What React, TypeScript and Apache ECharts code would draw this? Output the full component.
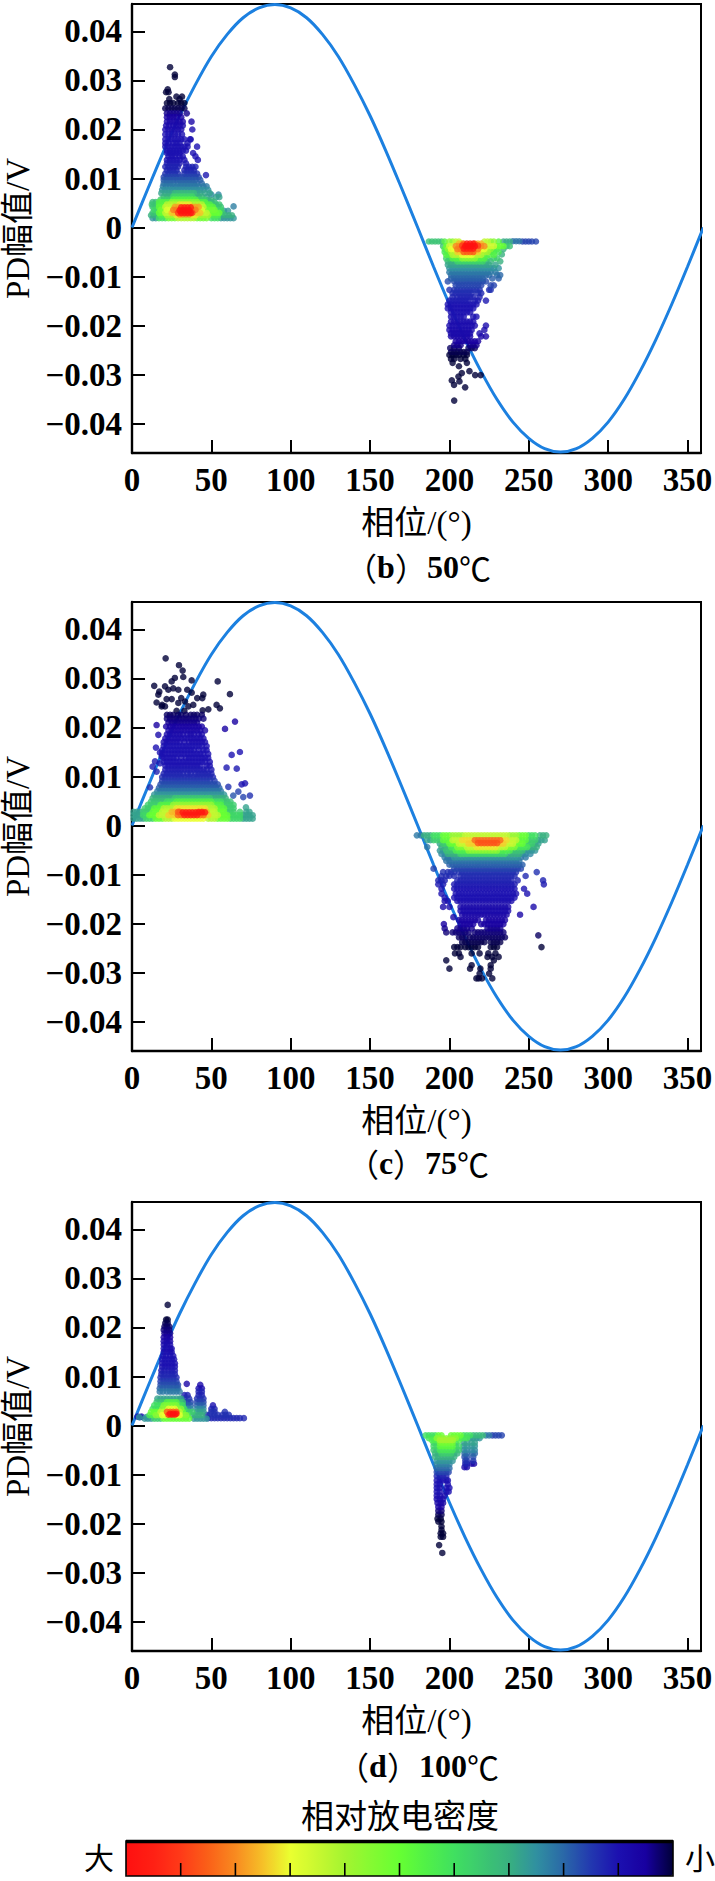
import React, { useEffect, useRef } from "react";
import * as echarts from "echarts";

// [amplitude, density (0 = 小 ... 10 = 大), ...phases]
type Row = number[];

const xTicks = [0, 50, 100, 150, 200, 250, 300, 350];
const yTicks = [-0.04, -0.03, -0.02, -0.01, 0, 0.01, 0.02, 0.03, 0.04];
const captionLetters = ["b", "c", "d"];
const captionTemps = ["50", "75", "100"];
const legendTitle = "相对放电密度";
const densityColors = ["#000038","#1800a0","#1c10b0","#2238b0","#2a68a8","#3090a0","#38b080","#3cc870","#40e060","#50f048","#66ff33","#84fa32","#a4f430","#c8f830","#eaff30","#f6c028","#f88a20","#fa6018","#ff3a18","#ff2014","#ff1010"];

const curvePhase = [0,10,20,30,40,50,60,70,80,90,100,110,120,130,140,150,160,170,180,190,200,210,220,230,240,250,260,270,280,290,300,310,320,330,340,350,360];
const curveAmp = [0,.0079,.0156,.0228,.0292,.0349,.0394,.0428,.0448,.0455,.0448,.0428,.0394,.0349,.0292,.0228,.0156,.0079,0,-.008,-.0157,-.0229,-.0294,-.0351,-.0397,-.043,-.0451,-.0458,-.0451,-.043,-.0397,-.0351,-.0294,-.0229,-.0157,-.008,0];

const b50Upper: Row[] = [
  [.0327,0,24],[.0312,0,27],[.0307,0,27],[.0282,0,22.5],[.0276,0,21.5,23],[.0267,0,28,31.5],[.0262,0,23.5,30],
  [.0254,0,22,24,26,29,31,33],[.0243,.1,21,23,25,27,29,31,33],[.0233,.4,22,24,26,28,30,34.5],[.0225,.5,22,24,26,28,31],
  [.0216,.7,22,24,26,28,30,32,37.5],[.0208,.8,21.5,23.5,26,28,30,32],[.02,.9,21,23,25,27,29,31,38],[.019,1,21,23,25,27,29,31.5],
  [.018,1,21,23,25,27,29,31,33,37,36.5],[.0172,1,21,23,26,28,30,35],[.0165,1,21,23,25,27,29,31,33,35,41],[.0157,1,22,24,26,28,30,32,34],
  [.0152,1,22,24,26,28,30,38.5],[.0145,1,23,25,27,30,32,40],[.0138,1,22,24,26,28,30,33,41.5],[.0131,1.1,22,24,26,28,30,34],
  [.0124,1.2,21,23,25,27,29,34,36,38,40],[.0117,1.2,22,24,26,28,33,35,37,39],[.011,1.4,21,23,25,27,29,33,35,37,39,41],[.0107,1.1,46.6],
  [.0103,1.6,20,22,24,26,28,30,32,34,36,38,40,42],[.0097,1.8,20,22,24,26,28,30,32,34,36,38,40,43],[.009,2,20,22,24,26,29,31,33,35,37,39,41,44],
  [.0084,2.2,19.5,21.5,24,26,28,30,32,34,36,38,40,42,45,47],[.0077,2.5,19,21,23,25,27,29,31,33,35,37,39,41,43,45,48],
  [.007,2.8,18.5,21,23,25,41,43,46,49],[.007,3.2,27,29,31,33,35,37,39],[.0067,2.4,50,54.5],[.0063,3,20,22,24,40,42,44],[.0063,3.8,26,28,30,32,34,36,38],[.0062,2.8,47,53,55],
  [.0057,3.6,18,20,22,24,42,44,46],[.0057,4.6,26,28,30,32,34,36,38,40],[.0056,3,48,50],
  [.0052,3.2,13,15,48,50,52],[.0052,4.6,17,19,21,23,42,44,46],[.0052,5.6,25,27,29,31,33,35,37,39,41],[.0047,3.4,12.5,15,51,53,55],[.0047,4.6,17,19,45,47,49],[.0047,6.2,22,24,26,28,38,40,42,44],[.0047,7.2,30,32,34,36],
  [.0042,3.4,13,15,54,56],[.0043,2.3,64],[.0042,4.8,17,19,47,49,51],[.0042,6.4,21,23,25,43,45],[.0042,7.8,27,29,38,40,42],[.0041,9.6,31,33,35,37],
  [.0036,3.8,14,16,54,56],[.0036,5.2,18,20,46,48,50,52],[.0036,6.8,22,24,42,44],[.0036,8.2,26,28,38,40],[.0035,10,30,32,34,36],[.0034,2.6,58,60.5],
  [.003,3.4,13,15,57],[.003,5,17,19,49,51,53,55],[.003,6.4,21,23,45,47],[.003,7.5,25,27,41,43],[.003,9,29,38],[.003,9.9,31,33,35,37],
  [.0025,3,12,14,16,57,59,61,63],[.0025,4.4,18,20,50,52,54],[.0025,6,22,24,26,42,44,46,48],[.0025,7.2,28,30,38,40],[.0027,8.2,30,32,34,36],
  [.0019,2.6,13,15,56,58,60,62,64],[.0019,4,17,19,21,50,52,54],[.0019,5.2,23,25,27,41,43,45,47],[.0019,6.2,29,31,33,35,37,39],
];

const b50Lower: Row[] = [
  [-.00285,3.4,187,189,191,193,195],[-.00285,2.9,234,236,238],[-.0028,2.1,240,242,244],[-.00285,1.6,246,248,250,252,254.5],[-.00285,4.6,197,231],[-.00285,5.6,200,202,226,228],[-.00285,6.4,204,206,222,224],
  [-.0033,7.6,206,208,218,220],[-.0033,8.4,209,216],[-.0033,9.8,211,213,215],
  [-.0038,3.4,196,236,238],[-.0038,5,198,230,232,234],[-.0038,6.6,200,202,224,226,228],[-.0038,8,204,206,220,222],[-.0037,9,208,218],[-.0038,10,210,212,214,216],
  [-.0044,3,234],[-.0044,4.4,197,228,230],[-.0044,5.6,199,224,226],[-.0044,7,201,203,220,222],[-.0044,8.2,205,207,218],[-.0043,9.7,209,211,213,215],
  [-.005,4.2,197,199,226,228,231],[-.005,6,201,203,220,222,224],[-.005,7.4,205,207,216,218],[-.005,8.6,209,211,213,215],[-.0055,3,233],
  [-.0056,4.6,198,200,222,225,228],[-.0056,6.2,202,204,206,216,218,220],[-.0056,7,208,210,212,214],
  [-.0063,3.6,198,200,224,228,230],[-.0063,4.6,202,204,206,218,220,222],[-.0063,5.6,208,210,212,214,216],
  [-.0069,3,199,201,203,223,226,232],[-.0069,3.8,205,207,209,211,213,215,217,219,221],
  [-.0076,2.8,199,201,203,205,207,209,211,213,215,217,219,221,223,225,229],
  [-.0083,2.5,200,202,204,206,208,210,212,214,216,218,220,222,224,226,228,231],
  [-.0091,2.2,200,202,204,206,208,210,212,214,216,218,220,222,224,226,229],
  [-.0097,2,201,203,205,207,209,211,213,215,217,219,221,223,225,230,232],[-.0104,1.9,201,203,205,207,209,211,213,215,217,219,221,227,231],
  [-.011,1.7,199,203,205,207,209,211,213,215,217,219,221,223],[-.0118,1.6,204,206,208,210,212,214,216,218,220,226,228],[-.0127,1.4,200,203,205,207,209,211,213,215,217,219,225,226],
  [-.0134,1.3,202,204,206,208,210,212,214,218,220],[-.0142,1.2,202,205,207,209,211,213,215,219],[-.0149,1.1,200,202,204,206,208,210,212,216,218,223],
  [-.0157,1,199,201,203,205,207,209,211,213,215,217],[-.0165,1,199,201,203,205,207,209,211,213,215],[-.0173,1,201,203,205,207,209,211,213],
  [-.0182,1,201,203,205,207,209,215,217],[-.0192,.9,201,203,205,207,209,211,213,215],[-.02,.9,200,202,204,206,208,210,212,214,216,223],
  [-.0209,.8,200,202,204,206,208,210,212,214,222],[-.0216,.8,201,203,205,207,209,211,213,219],[-.0222,.7,201,203,205,207,209,211,213,220,223],
  [-.0232,.5,204,206,208,210,212,214,216,218],[-.024,.4,203,205,207,213,215,217],[-.0246,.2,200.5,203,206,212,214,216],[-.0254,.1,201,203,205,207,209,211],
  [-.026,0,200,202,204,206,209,211],[-.0268,0,201,203,207,210],[-.0276,0,202,211],[-.0283,0,206],
  [-.0293,0,212.6],[-.0297,0,207.8],[-.0301,0,216.2,219.7],[-.0304,0,205.7],[-.0312,0,201.5],[-.0314,0,206.3],[-.0321,0,202.9],[-.0326,0,209.9],[-.0353,0,203],
];

const c75Upper: Row[] = [
  [.0341,0,21.2],[.0327,0,29.6],[.0316,0,31.9],[.0303,0,32.3],[.0301,0,27],[.0296,0,37.6],[.0294,0,25,54],[.0285,0,14],[.0284,0,20.8],[.028,0,26],[.0277,0,22.9,29.2,34.8],[.0273,0,17.2],[.0271,0,37.6],[.0267,0,16.6,44.9],[.0268,0,61.7],
  [.026,0,41.1,44.3,31],[.0258,0,21.8,25],[.0253,0,33.4],[.0251,0,15.5],[.025,0,29.2],[.0246,0,38.6,53.3,19],[.0243,0,18.7,20.8,35.5],[.0239,0,55.4],[.0237,0,48.1],[.0235,0,44.5],[.0234,0,28.1,33],[.0212,.5,64.9],[.0197,.6,58.6],[.0205,.5,15.5],[.0185,.8,16.6],[.0159,1,15.1],[.0149,1,17.6],[.0141,1,18.7],[.015,1,68],[.0144,1,62.8],[.0131,1.1,14.5],[.0127,1.1,17.6],[.012,1.1,13],[.0118,1.1,59.6],[.0116,1.1,66],[.011,1.2,15.5],[.0078,1.4,11.3],[.0079,1.4,60.7],[.0084,1,69.1],[.0086,1,71.2],[.0069,1.6,67],[.0061,1.8,63.8],[.0058,1.6,70.1],[.0061,1.4,74.3],[.0037,2.8,71.8],
  [.0226,.2,22,24,26,29,31,34,37,39,41,44],[.0218,.3,22,24,26,28,30,32,34,36,38,40,42,45],[.021,.4,23,25,27,29,31,33,35,37,39,41],[.0202,.6,21.5,24,26,28,30,32,34,36,38,40,42,44],
  [.0194,.7,23,25,27,29,31,33,35,37,39,41,43,46],[.0186,.8,22,24,26,28,30,32,35,37,39,42,44],[.0178,.9,21,23,25,27,29,31,33,35,37,39,41,43,45],[.017,.9,20,22,24,26,28,30,33,36,38,40,42,44,46],
  [.0162,1,20,22,24,26,28,30,32,34,36,38,40,42,44,47],[.0154,1,19,21,23,25,27,29,31,33,35,37,39,42,45,47],[.0146,1,19,21,23,25,27,29,31,33,35,37,39,41,43,45,48],[.0138,1,20,22,24,26,28,31,34,36,38,40,42,44,46,48],
  [.013,1,20,22,24,26,28,30,32,34,36,38,40,42,44,46,49],[.0122,1,21,23,25,27,29,31,33,35,37,39,41,43,47,49],[.0114,1.1,21,23,25,27,29,31,33,35,37,39,41,43,45,47,50],[.0106,1.2,20,22,24,26,28,30,32,35,37,40,42,44,46,48,50],
  [.0099,1.3,19,21,23,25,27,29,31,33,35,37,39,41,43,45,47,49,51],[.0091,1.5,19,21,23,25,27,29,31,33,35,37,39,41,43,45,47,49,52],[.0084,1.7,18,20,22,24,26,28,30,32,34,36,38,40,42,44,46,48,50,52,54],[.0077,1.9,17,19,21,23,25,27,29,31,33,35,37,39,41,43,45,47,49,51,53,55],
  [.007,2.2,16,18,20,22,24,26,28,30,32,34,36,38,40,42,44,46,48,50,52,54,56],[.0063,2.6,14,16,18,20,22,24,26,28,30,32,34,36,38,40,42,44,46,48,50,52,54,56,58],
  [.0056,3,13,15,17,19,21,23,25,51,53,55,57,59],[.0056,3.5,27,29,31,33,35,37,39,41,43,45,47,49],
  [.0049,3.4,12,14,16,18,20,58,60,62],[.0049,4,22,24,26,52,54,56],[.0049,4.6,28,30,32,34,36,38,40,42,44,46,48,50],
  [.0042,3.6,10,12,14,16,58,60,62,64],[.0042,4.6,18,20,22,24,52,54,56],[.0042,5.8,26,28,30,32,34,36,38,40,42,44,46,48,50],
  [.0035,3.6,8,10,12,60,62,64],[.0035,4.8,14,16,18,54,56,58],[.0035,6.2,20,22,24,26,48,50,52],[.0035,7.2,28,30,32,34,36,38,40,42,44,46],
  [.0028,2.8,1,3,5,72,74],[.0028,3.6,7,9,11,60,62,64,68],[.0028,5,13,15,17,54,56,58],[.0028,6.4,19,21,23,48,50,52],[.0028,7.6,25,27,45,47],[.0028,8.6,29,30,42,44],[.0027,9.8,32,34,36,38,40,42,44,46],
  [.0021,2.8,1,3,5,70,72,74,76],[.0021,3.8,7,9,62,64,66,68],[.0021,5,11,13,15,56,58,60],[.0021,6.4,17,19,21,50,52,54],[.0021,7.4,23,25,27,46,48],[.0021,8.4,29,31,43,45],[.0021,9.6,33,35,37,39,41],
  [.0014,2.8,1,3,5,7,70,72,74,76],[.0014,3.8,9,11,13,62,64,66,68],[.0014,5,15,17,19,54,56,58,60],[.0014,6.2,21,23,25,48,50,52],[.0014,7,27,29,31,33,35,37,39,41,43,45],
];

const c75Lower: Row[] = [
  [-.002,2.2,179.5,182],[-.002,3,184,186,188,257,259,261],[-.002,4,190,192,194,250,252,254],[-.002,5,196,198,200,244,246,248],[-.002,5.8,202,204,206,208,238,240,242],[-.002,6.4,210,212,214,216,218,220,222,224,226,228,230,232,234,236],
  [-.003,2.8,186,188,256,258,260],[-.003,3.6,190,192,194,250,252,254],[-.003,4.8,196,198,200,244,246,248],[-.003,6.4,202,204,206,238,240,242],[-.003,7.3,208,210,212,214,234,236],[-.003,8.4,216,218,220,222,224,226,228,230,232],
  [-.0037,2.8,194,254,256],[-.0037,3.6,196,198,248,250,252],[-.0037,5,200,202,204,242,244,246],[-.0037,6.5,206,208,210,236,238,240],[-.0037,7.4,212,214,216,232,234],[-.0036,8.7,218,220,222,224,226,228,230],
  [-.0044,2.2,186],[-.0044,3,195,197,199,251,253,255],[-.0044,4.2,201,203,243,245,247,249],[-.0044,5.4,205,207,209,237,239,241],[-.0044,6.4,211,213,215,231,233,235],[-.0044,7.2,217,219,221,223,225,227,229],
  [-.0051,2.6,194,196,248,250,252,254],[-.0051,3.4,198,200,202,240,242,244,246],[-.0051,4.4,204,206,208,210,232,234,236,238],[-.0051,5.6,212,214,216,218,220,222,224,226,228,230],
  [-.0058,2.4,195,197,246,248,251],[-.0058,3,199,201,203,205,238,240,242,244],[-.0058,3.8,207,209,211,213,215,217,219,221,223,225,227,229,231,233,235],
  [-.0065,2.2,197,199,201,245,248],[-.0065,2.6,203,205,207,209,211,213,215,217,219,221,223,225,227,229,231,233,235,237,239,241,243],
  [-.0072,2.1,198,200,202,204,206,208,210,212,214,216,218,220,222,224,226,228,230,232,234,236,238,240,242,244],
  [-.008,1.9,200,202,204,206,208,210,212,214,216,218,220,222,224,226,228,230,232,234,236,238,240,242,244,246],
  [-.0088,1.6,190,203,205,207,209,211,213,215,217,219,221,223,225,227,229,231,233,235,237,239,241,243,245],
  [-.0095,1.4,196,199,201,203,206,208,210,212,214,216,218,220,222,224,226,228,230,232,234,236,238,240,242,255],
  [-.0103,1.3,195,198,200,203,207,209,211,213,215,217,219,221,223,225,227,229,231,233,235,237,239,241,248],
  [-.0112,1.2,193,195,197,205,207,209,211,213,215,217,219,221,223,225,227,229,231,233,235,237,239,243,259],[-.012,1.1,259.5],
  [-.012,1.1,193,196,203,205,207,209,211,213,215,217,219,221,223,225,227,229,231,233,235,237,239,241],[-.0129,1,195,203,205,207,209,211,213,215,217,219,221,223,225,227,229,231,233,235,237,239,241,247],
  [-.0139,1,195,204,206,208,210,212,214,216,218,220,222,224,226,228,230,232,234,236,238,240,242,249],[-.0147,1,197,203,205,207,209,211,213,215,217,219,221,223,225,227,229,231,233,235,237,239,241],
  [-.0154,.9,197,199,205,207,209,211,213,215,217,219,221,223,225,227,229,231,233,235,237,239],[-.0166,.8,196,200,207,209,211,213,215,217,219,221,223,225,227,229,231,233,235,237,253],
  [-.0174,.8,207,209,211,213,215,217,219,221,223,225,227,229,231,233,235,237],[-.0182,.7,208,210,212,214,216,218,220,222,224,226,228,230,232,234,236,244.5],[-.0187,.7,202.5],
  [-.0193,.6,206,208,210,212,214,216,218,223,225,227,229,231,233,235],[-.0201,.5,207,209,211,213,215,220,222,224,226,228,230,232,234,196.5],
  [-.021,.4,205,207,209,211,214,224,226,228,230,232,197],[-.0218,.3,202,204,206,208,210,212,216,218,220,222,224,226,228,230,232,234,198],[-.0224,.2,256],
  [-.0228,.2,206,208,210,213,215,217,219,221,223,225,227,229,231,233,235],[-.0238,.1,208,210,212,214,216,218,220,222,226,228,230,232],[-.0248,0,203,205,207,210,212,214,216,218,226,228,230],[-.0248,0,258],
  [-.0261,0,203.5,206,214,219,224.5,229],[-.0268,0,207,224,227,231],[-.0275,0,198,228],[-.0285,0,214,226],[-.0292,0,200,213,219.5,226],[-.0302,0,219,225],[-.0312,0,217,218.5,220.5,227],
];

const d100Upper: Row[] = [
  [.0246,0,22.5],[.0216,0,21.5,22.5],[.0209,.1,21,22.5],[.0202,.2,20.5,22,23.5],[.0195,.3,20,22,23.5],[.0188,.4,20.5,22,24],[.018,.5,20,22,24],[.0172,.7,20,22,24],[.0165,.8,20,22,24],
  [.0157,.9,20,22,24,25],[.015,.9,20,22,24,25],[.0142,1,19.5,21.5,24,26],[.0135,1,19,21,23,25,26.5],[.0127,1,19,21,23,25,27],[.012,1,19,21,23,25,27],[.0112,1.1,18.5,20.5,23,25,27],
  [.0105,1.2,18.5,20.5,23,25,27],[.0098,1.3,18,20,22,24,26,28],[.009,1.5,18,20,22,24,26,28],[.0083,1.7,18,20,22,24,26,28,29],[.0076,1.9,17.5,19.5,22,24,26,28,29],[.0083,.8,43],[.0076,.9,42,44],[.0085,.7,34.5],
  [.0069,2.2,17.5,19.5,22,24,26,28,30],[.0069,1.2,42,44],[.0062,1.2,33,35,42,44],[.0055,2.8,16,18,20,22,24,26,28,30,31],[.0055,1.4,33,36,41,43,45],[.0048,1.6,33,35,37,41,43,45],[.0048,3.4,15.5,18,20,30,32],
  [.0048,4.6,22,24,26,28],[.0041,1,51],[.0041,1.9,33,35,37,41,43,45],[.0041,4,14,16,18,30,32],[.0041,5.4,20,22,24,26,28],[.0034,1.2,50,52],[.0034,2.4,33,35,37,41,43,45],[.0034,4,13,15,17,33],[.0034,5.6,19,21,29,31],[.0034,7,23,25,27],
  [.0028,1.4,50,52,58.5],[.0028,2.8,41,43,45],[.0028,3.6,34,36,38],[.0028,5,12,14,16,32],[.0028,6.4,18,20,28,30],[.0028,8.6,22,24,26,28],[.0024,10,24,26,28],[.0022,9.4,23,25,27],[.0022,1.4,47,49,52,54,57,59,61],
  [.0021,4.4,11,13,35],[.0021,5.6,15,17,32,34],[.0021,7,19,21,28,30],[.0021,3,38,40,42,44],[.0015,1.3,48,50,52,54,56,58,60,62,64,66,68,70.5],[.0017,2.6,9,4.5],[.0017,1.1,5],[.0014,2.6,8,10,12,45,47,39,41,43],[.0014,3.6,14,16,18],[.0014,5,20,22,24,26,28,30,32,34,36],[.0018,1,3.5,6],
];

const d100Lower: Row[] = [
  [-.002,4,185,187,189,191,209,211,213],[-.002,3.2,215,217,219,221],[-.002,2.2,223,225],[-.002,1.6,227,229,231,233],[-.002,5,193,195,201,203,205,207],
  [-.0026,4.2,187,190,207,209,211],[-.0026,2.6,213,215,217,219],[-.0026,5.6,192,194,196,198,200,202,204],[-.003,4.4,189,191,206],[-.003,6,194,196,198,200,202],
  [-.0035,3.8,190,192,204],[-.0035,2.8,209,211,214,216],[-.0035,5.2,194,196,198,200,202],[-.0042,3.8,190,192,204,206],[-.0042,2.6,209,211,214,216],[-.0042,4.8,194,196,198,200,202],
  [-.005,3.4,190,192,204,206],[-.005,2.4,209,211,214,216],[-.005,4.2,194,196,198,200,202],[-.0057,3,191,193,203,205],[-.0057,2,209.5,211,214.5,216],[-.0057,3.6,195,197,199,201],
  [-.0064,3,191,193,195,197,199,201,203],[-.0064,1.7,209.5,211,215],[-.0072,2.6,192,194,196,198,200,202],[-.0072,1.4,210,211,215],[-.0078,1.2,210,211],[-.0085,.8,209.5,211],[-.0078,.7,214,215.5],
  [-.0079,2.3,192,194,196,198,200],[-.0087,2,192,194,196,198,200],[-.0095,1.6,192,194,196,198,199.5],[-.0103,1.2,192,194,196,198],[-.0112,1,192,194,196,198,199],[-.012,1,192,194,199],[-.0127,1,192,194,198,200],
  [-.0135,1,192,194,198,199.5],[-.0143,.9,192,194,197],[-.015,.8,192,194,196],[-.0158,.7,192.5,194.5,196],[-.0166,.5,193,195],[-.0174,.3,193,195],[-.0182,.1,193,195],[-.019,0,192.5,194.5],
  [-.0196,0,193,195],[-.0206,0,195],[-.0213,0,195],[-.022,0,194.5,196],[-.0227,0,194.5,196],[-.0244,0,193.5],[-.026,0,195.5],
];

const plots = [
  { top: 4, caption: 567, points: [b50Upper, b50Lower] },
  { top: 602, caption: 1163, points: [c75Upper, c75Lower] },
  { top: 1202, caption: 1766, points: [d100Upper, d100Lower] },
];

const serif = '"Liberation Serif", "Noto Sans CJK SC", serif';
const cjk = '"Noto Sans CJK SC", sans-serif';

function expand(groups: Row[][]) {
  const out: number[][] = [];
  for (const rows of groups) for (const [amp, d, ...phases] of rows) for (const p of phases) out.push([p, amp, d]);
  return out.sort((a, b) => a[2] - b[2]);
}

const fmtY = (v: number) => (Math.abs(v) < 1e-9 ? "0" : v < 0 ? "\u2212" + (-v).toFixed(2) : v.toFixed(2));

export default function App() {
  const ref = useRef<HTMLDivElement>(null);
  useEffect(() => {
    document.body.style.margin = "0";
    const chart = echarts.init(ref.current!, undefined, { renderer: "svg" });
    const labelStyle = { color: "#000", fontFamily: serif, fontSize: 33, fontWeight: "bold" };
    const nameStyle = { color: "#000", fontFamily: serif, fontSize: 33, fontWeight: "normal" };
    const H = 449;
    const series: any[] = [];
    plots.forEach((pl, i) => {
      series.push({
        type: "line", xAxisIndex: i, yAxisIndex: i, data: curvePhase.map((p, k) => [p, curveAmp[k]]),
        smooth: 0.35, showSymbol: false, symbol: "none", lineStyle: { color: "#1c80e0", width: 3 }, z: 2,
      });
      series.push({
        type: "scatter", xAxisIndex: i, yAxisIndex: i, data: expand(pl.points), symbol: "circle", symbolSize: 6.6, z: 3,
      });
    });
    const ticksOnBar = [1, 2, 3, 4, 5, 6, 7, 8, 9];
    const barL = 126, barW = 547, barT = 1841, barH = 35;
    const graphic: any[] = [
      ...plots.map((pl, i) => ({
        type: "text", x: 418, y: pl.caption, z: 10,
        style: {
          text: `{c|（}{s|${captionLetters[i]}}{c|）}{s|${captionTemps[i]}}{c|℃}`, textAlign: "center", textVerticalAlign: "middle", fill: "#000",
          rich: {
            c: { fontFamily: cjk, fontSize: 32, fill: "#000" },
            s: { fontFamily: serif, fontSize: 32, fontWeight: "bold", fill: "#000" },
          },
        },
      })),
      { type: "text", x: 400, y: 1817, z: 10, style: { text: legendTitle, fontFamily: serif, fontSize: 33, fill: "#000", textAlign: "center", textVerticalAlign: "middle" } },
      { type: "rect", z: 10, shape: { x: barL, y: barT, width: barW, height: barH }, style: { fill: "none", stroke: "#000", lineWidth: 1.6 } },
      { type: "line", z: 10, shape: { x1: barL, y1: barT + 0.5, x2: barL + barW, y2: barT + 0.5 }, style: { stroke: "#000", lineWidth: 3.4 } },
      ...ticksOnBar.map((t) => ({
        type: "line", z: 10,
        shape: { x1: barL + (barW * t) / 10, y1: barT + barH, x2: barL + (barW * t) / 10, y2: barT + barH - 13 },
        style: { stroke: "#000", lineWidth: 1.6 },
      })),
    ];
    chart.setOption({
      animation: false,
      backgroundColor: "#fff",
      grid: plots.map((pl) => ({ left: 132, width: 569, top: pl.top, height: H, show: true, borderColor: "#000", borderWidth: 2, backgroundColor: "transparent", outerBoundsMode: "none", containLabel: false })),
      xAxis: plots.map((_, i) => ({
        type: "value", gridIndex: i, min: 0, max: 358.5, name: "相位/(°)", nameLocation: "middle", nameGap: 53,
        nameTextStyle: nameStyle,
        axisLine: { show: true, onZero: false, lineStyle: { color: "#000", width: 2.4 } },
        axisTick: { inside: true, length: 13, lineStyle: { color: "#000", width: 2 }, customValues: xTicks },
        axisLabel: { ...labelStyle, margin: 10, customValues: xTicks },
        splitLine: { show: false },
      })),
      yAxis: plots.map((_, i) => ({
        type: "value", gridIndex: i, min: -0.046, max: 0.0456, name: "PD幅值/V", nameLocation: "middle", nameGap: 95,
        nameTextStyle: nameStyle,
        axisLine: { show: true, onZero: false, lineStyle: { color: "#000", width: 2.4 } },
        axisTick: { inside: true, length: 13, lineStyle: { color: "#000", width: 2 }, customValues: yTicks },
        axisLabel: { ...labelStyle, margin: 10, formatter: fmtY, customValues: yTicks },
        splitLine: { show: false },
      })),
      visualMap: {
        type: "continuous", min: 0, max: 10, seriesIndex: [1, 3, 5], dimension: 2, orient: "horizontal", inverse: true,
        left: 84, top: barT, itemWidth: barH, itemHeight: barW, text: ["大", "小"], textGap: 12, padding: 0,
        calculable: false, hoverLink: false, showLabel: true,
        textStyle: { color: "#000", fontFamily: serif, fontSize: 30 },
        inRange: { color: densityColors },
      },
      series,
      graphic,
    });
    return () => chart.dispose();
  }, []);
  return <div ref={ref} style={{ width: 715, height: 1881, position: "absolute", left: 0, top: 0, overflow: "hidden" }} />;
}
